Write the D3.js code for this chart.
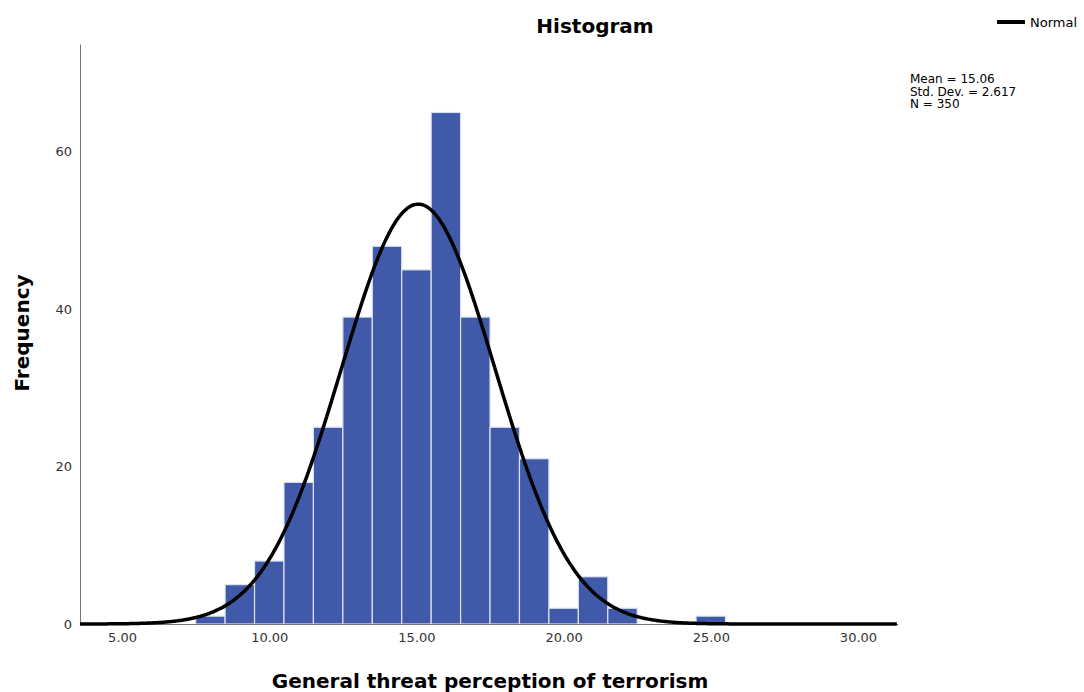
<!DOCTYPE html>
<html>
<head>
<meta charset="utf-8">
<script src="https://cdn.jsdelivr.net/npm/d3@7"></script>
<style>
  body { margin: 0; background: #fff; }
  text { font-family: "DejaVu Sans", "Open Sans", sans-serif; }
</style>
</head>
<body>
<svg id="chart" width="1084" height="692"></svg>
<script>
// bin centres (bin width 1) and counts
const binCenters = [8, 9, 10, 11, 12, 13, 14, 15, 16, 17, 18, 19, 20, 21, 22, 25];
const counts     = [1, 5, 8, 18, 25, 39, 48, 45, 65, 39, 25, 21, 2, 6, 2, 1];
const xTicks = [5, 10, 15, 20, 25, 30];
const yTicks = [0, 20, 40, 60];
const mean = 15.06, stdDev = 2.617, n = 350, binWidth = 1;
const statsLines = ["Mean = 15.06", "Std. Dev. = 2.617", "N = 350"];

let svg = d3.select("#chart");

let margin = {top: 44, left: 80, right: 186, bottom: 68},
    width = 1084 - margin.left - margin.right,
    height = 692 - margin.top - margin.bottom;

let x = d3.scaleLinear().domain([3.57, 31.36]).range([margin.left, margin.left + width]);
let y = d3.scaleLinear().domain([0, 73.7]).range([margin.top + height, margin.top]);

// bars
svg.append("g").selectAll("rect")
    .data(binCenters)
    .enter().append("rect")
    .attr("x", d => x(d - binWidth / 2))
    .attr("width", d => x(d + binWidth / 2) - x(d - binWidth / 2))
    .attr("y", (d, i) => y(counts[i]))
    .attr("height", (d, i) => y(0) - y(counts[i]))
    .style("fill", "#4059a9")
    .style("stroke", "#dde2f0")
    .style("stroke-width", 1.2);

// axes
let yAxis = svg.append("g")
    .attr("transform", "translate(" + margin.left + ",0)")
    .call(d3.axisLeft(y).tickValues(yTicks).tickSize(0).tickPadding(8));
yAxis.select(".domain").attr("stroke", "#777");
yAxis.selectAll("text").style("font-size", "13px").attr("fill", "#333");

let xAxis = svg.append("g")
    .attr("transform", "translate(0," + y(0) + ")")
    .call(d3.axisBottom(x).tickValues(xTicks).tickFormat(d3.format(".2f")).tickSize(0).tickPadding(9));
xAxis.select(".domain").attr("stroke", "#777");
xAxis.selectAll("text").style("font-size", "13px").attr("fill", "#333");

// normal curve from mean / std. dev.
let curveX = d3.range(3.57, 31.37, 0.05);
let line = d3.line()
    .x(d => x(d))
    .y(d => y(n * binWidth * Math.exp(-0.5 * Math.pow((d - mean) / stdDev, 2)) / (stdDev * Math.sqrt(2 * Math.PI))))
    .curve(d3.curveBasis);

svg.append("path")
    .datum(curveX)
    .attr("d", line)
    .style("fill", "none")
    .style("stroke", "#000")
    .style("stroke-width", 3.5);

// titles
svg.append("text")
    .attr("x", 595).attr("y", 33)
    .attr("text-anchor", "middle")
    .style("font-size", "20px").style("font-weight", "bold")
    .text("Histogram");

svg.append("text")
    .attr("x", 490).attr("y", 688)
    .attr("text-anchor", "middle")
    .style("font-size", "20px").style("font-weight", "bold")
    .text("General threat perception of terrorism");

svg.append("text")
    .attr("transform", "translate(29," + 333 + ") rotate(-90)")
    .attr("text-anchor", "middle")
    .style("font-size", "20px").style("font-weight", "bold")
    .text("Frequency");

// legend
svg.append("line")
    .attr("x1", 997).attr("x2", 1025)
    .attr("y1", 22).attr("y2", 22)
    .style("stroke", "#000").style("stroke-width", 4);
svg.append("text")
    .attr("x", 1030).attr("y", 27)
    .style("font-size", "13px")
    .text("Normal");

// stats box
svg.append("g").selectAll("text")
    .data(statsLines)
    .enter().append("text")
    .attr("x", 910)
    .attr("y", (d, i) => 83 + i * 12.5)
    .style("font-size", "12px")
    .text(d => d);
</script>
</body>
</html>
